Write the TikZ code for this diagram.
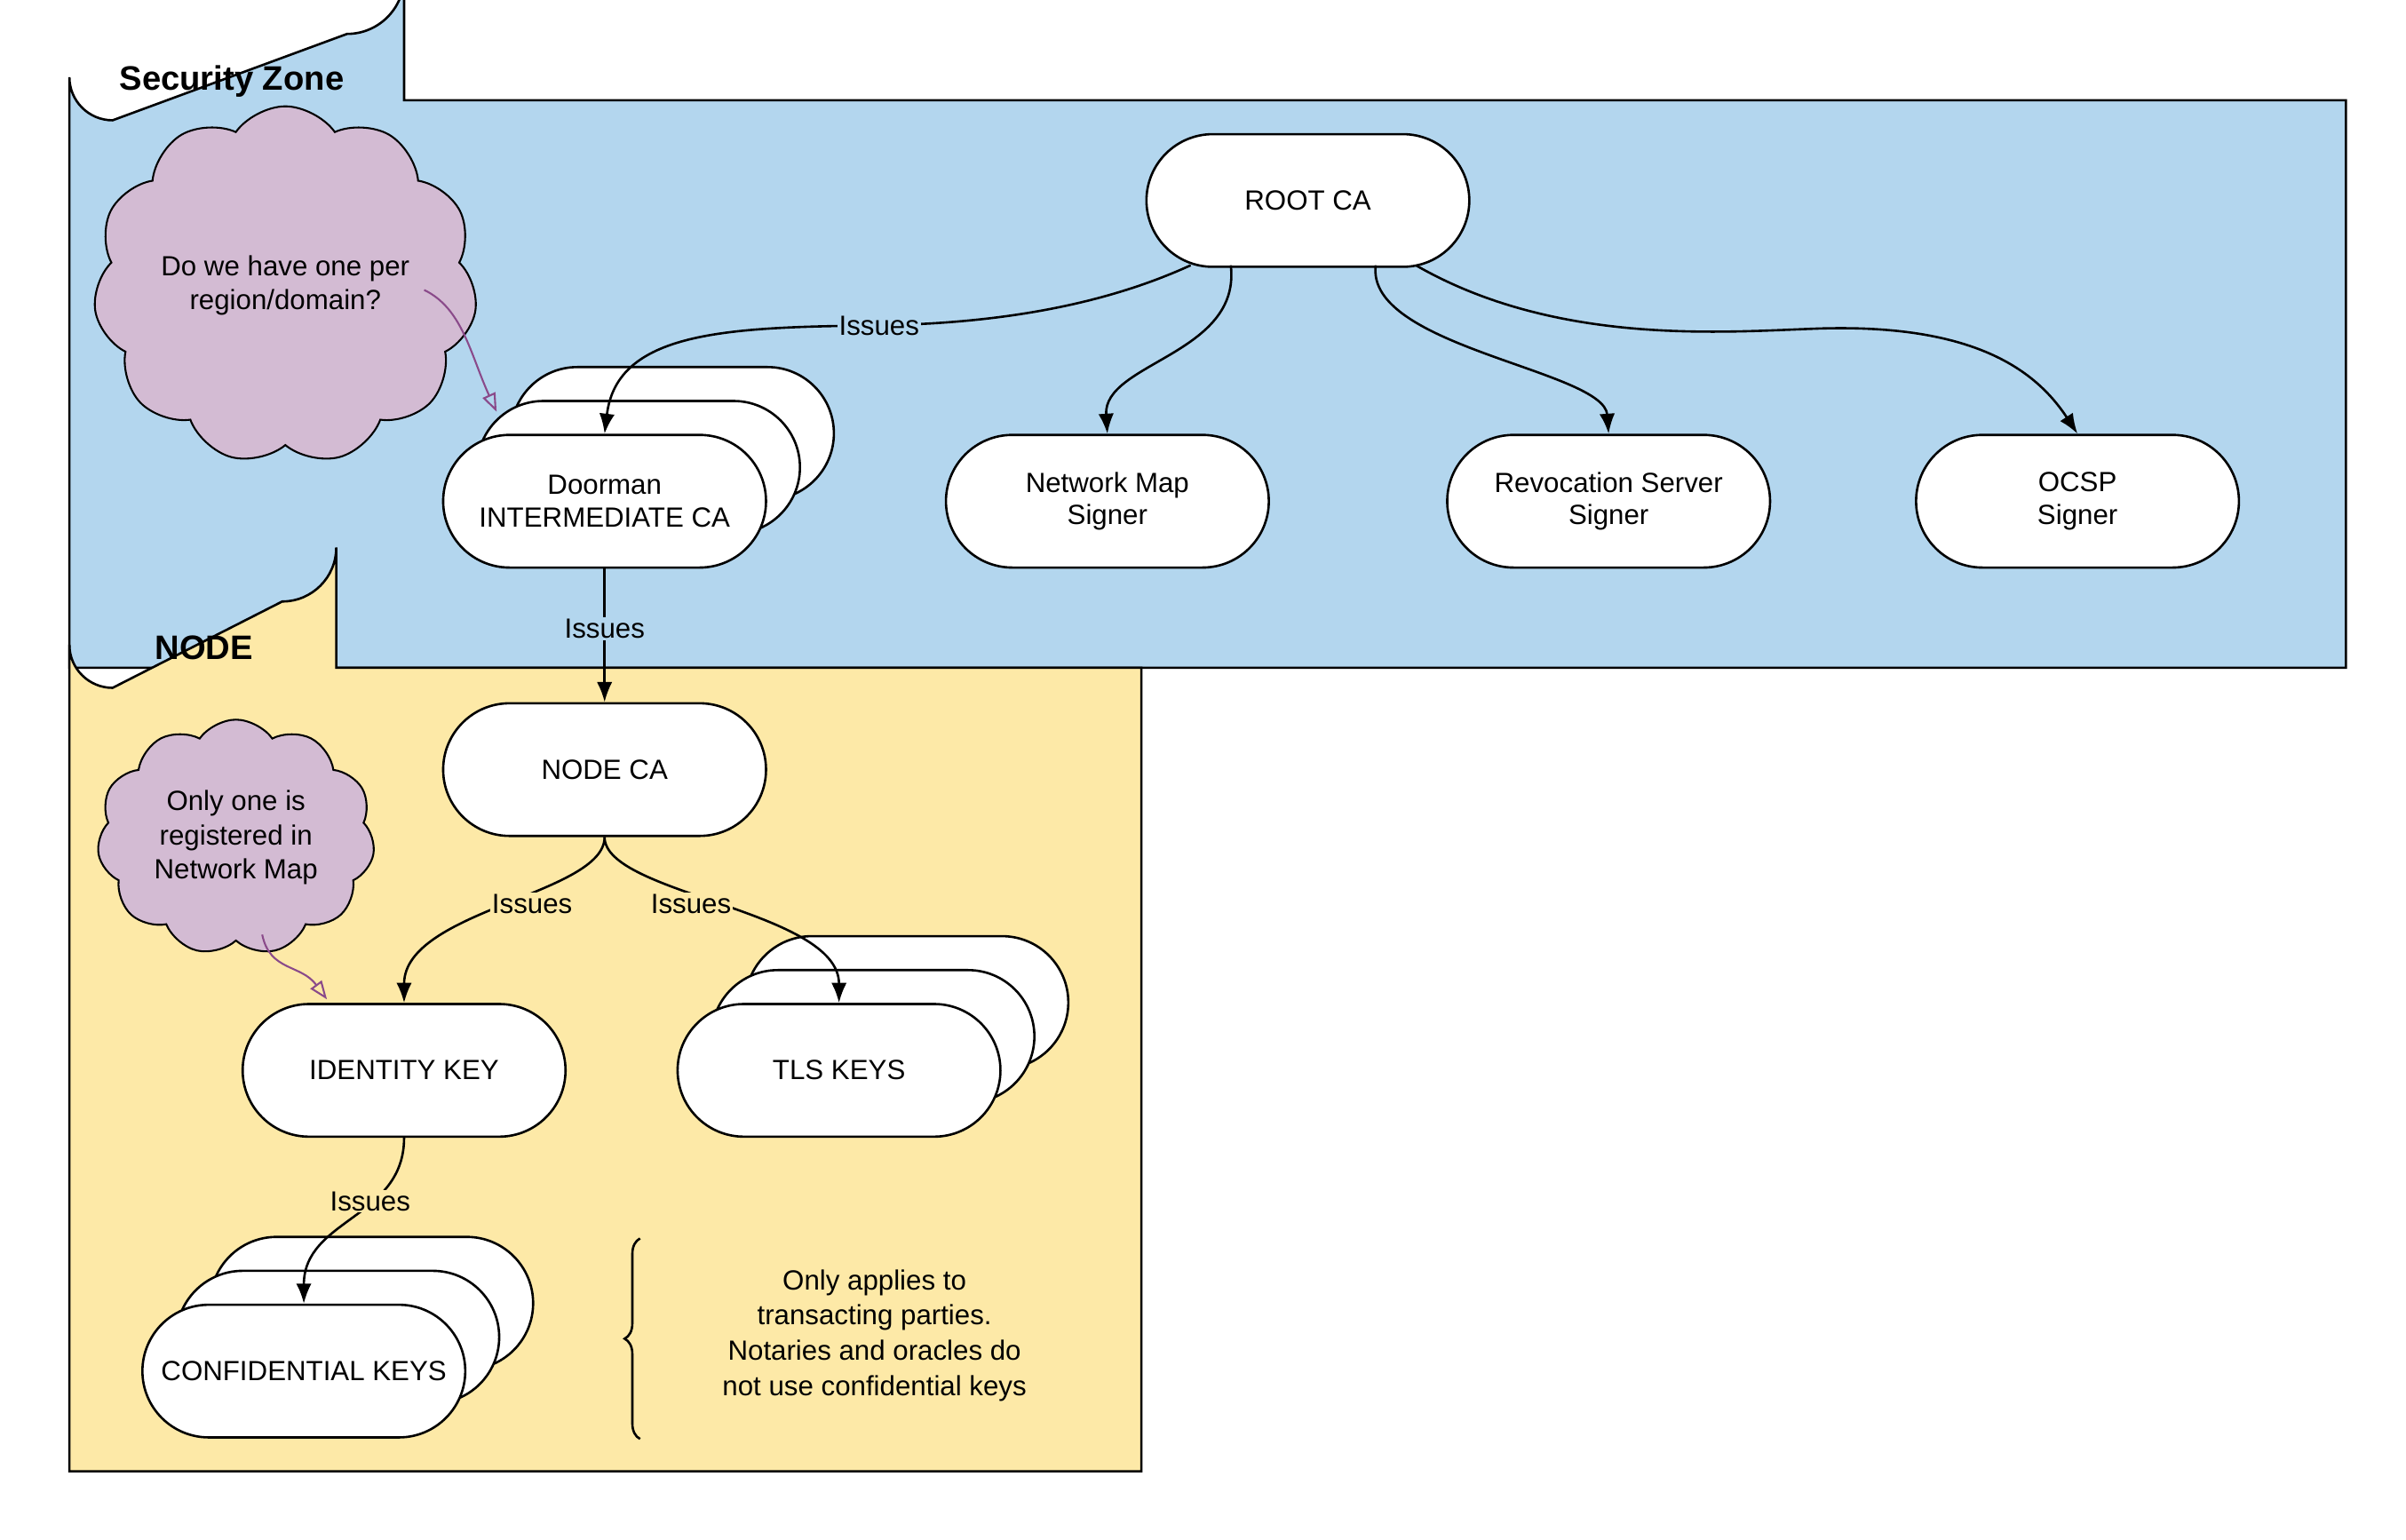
\documentclass[tikz,border=0pt]{standalone}
\usepackage{fontspec}
\setmainfont{Liberation Sans}
\usetikzlibrary{shapes.misc,shapes.symbols,arrows.meta,decorations.pathreplacing}
\definecolor{zoneblue}{HTML}{B3D6EE}
\definecolor{nodeyel}{HTML}{FDE9A7}
\definecolor{cloudp}{HTML}{D3BBD3}
\definecolor{arrowp}{HTML}{8A4A8A}
\begin{document}
\begin{tikzpicture}[x=1pt,y=-1pt,
  box/.style={rounded rectangle,draw=black,fill=white,line width=1.5pt,minimum width=216pt,minimum height=86pt,align=center,font=\fontsize{18}{21}\selectfont},
  cl/.style={cloud,cloud puffs=11,cloud puff arc=110,aspect=1.1,draw=black,fill=cloudp,line width=1.2pt,align=center,font=\fontsize{18}{22}\selectfont,inner sep=0pt},
  iss/.style={-{Latex[length=13pt,width=10pt]},line width=1.5pt},
  lbl/.style={fill=zoneblue,inner sep=1pt,font=\fontsize{18}{21}\selectfont},
  lbly/.style={fill=nodeyel,inner sep=1pt,font=\fontsize{18}{21}\selectfont},
  note/.style={-{Triangle[open,length=12pt,width=9pt]},draw=arrowp,line width=1.2pt}]
\useasboundingbox (0,0) rectangle (1560,998);
% security zone
\draw[fill=zoneblue,line width=1.5pt] (45,433) -- (45,65) -- (45,50) to[out=-90,in=180,looseness=0] (45,50)
  arc[start angle=180,end angle=90,radius=28] -- (225,22) arc[start angle=90,end angle=0,radius=37] -- (262,65) -- (1521,65) -- (1521,433) -- cycle;
\node[anchor=west,font=\bfseries\fontsize{22}{26}\selectfont] (sz) at (74,53) {Security Zone};
% node zone
\draw[fill=nodeyel,line width=1.5pt] (45,954) -- (45,418) arc[start angle=180,end angle=90,radius=28] -- (183,390) arc[start angle=90,end angle=0,radius=35] -- (218,433) -- (740,433) -- (740,954) -- cycle;
\node[anchor=west,font=\bfseries\fontsize{22}{26}\selectfont] (nz) at (97,420) {NODE};
% nodes
\node[box] (root) at (848,130) {ROOT CA};
\node[box] (d3) at (436,281) {};
\node[box] (d2) at (414,303) {};
\node[box] (door) at (392,325) {Doorman\\INTERMEDIATE CA};
\node[box] (nm) at (718,325) {Network Map\\Signer};
\node[box] (rev) at (1043,325) {Revocation Server\\Signer};
\node[box] (ocsp) at (1347,325) {OCSP\\Signer};
\node[box] (nca) at (392,499) {NODE CA};
\node[box] (idk) at (262,694) {IDENTITY KEY};
\node[box] (t3) at (588,650) {};
\node[box] (t2) at (566,672) {};
\node[box] (tls) at (544,694) {TLS KEYS};
\node[box] (c3) at (241,845) {};
\node[box] (c2) at (219,867) {};
\node[box] (conf) at (197,889) {CONFIDENTIAL KEYS};
% clouds
\node[cl,minimum width=200pt,minimum height=160pt] (cl1) at (185,185) {Do we have one per\\region/domain?};
\node[cl,minimum width=180pt,minimum height=130pt] (cl2) at (153,543) {Only one is\\registered in\\Network Map};
% edges
\coordinate (r1) at (772,172); \coordinate (r2) at (798,172); \coordinate (r3) at (892,172); \coordinate (r4) at (918,172);
\draw[iss] (r1) .. controls (700,205) and (620,210) .. (570,211) .. controls (470,212) and (400,215) .. (door.north);
\node[lbl] (l1) at (570,211) {Issues};
\draw[iss] (r2) .. controls (805,230) and (715,235) .. (nm.north);
\draw[iss] (r3) .. controls (885,225) and (1040,240) .. (rev.north);
\draw[iss] (r4) .. controls (1010,225) and (1120,215) .. (1180,213) .. controls (1280,210) and (1320,240) .. (ocsp.north);
\draw[iss] (door.south) -- node[lbl,pos=0.45] (l2) {Issues} (nca.north);
\draw[iss] (nca.south) .. controls (392,580) and (262,590) .. (idk.north);
\node[lbly] (l3) at (345,586) {Issues};
\draw[iss] (nca.south) .. controls (392,580) and (544,590) .. (tls.north);
\node[lbly] (l4) at (448,586) {Issues};
\draw[iss] (idk.south) .. controls (262,790) and (197,790) .. (conf.north);
\node[lbly] (l5) at (240,779) {Issues};
\coordinate (n1) at (275,188); \coordinate (n1e) at (322,267);
\draw[note] (n1) .. controls (300,200) and (305,230) .. (n1e);
\coordinate (n2) at (170,606); \coordinate (n2e) at (212,648);
\draw[note] (n2) .. controls (175,630) and (195,625) .. (n2e);
% brace
\draw[line width=1.5pt,decorate,decoration={brace,amplitude=10pt}] (415,933) -- (415,803);
\node[align=center,font=\fontsize{18}{23}\selectfont] (txt) at (567,866) {Only applies to\\transacting parties.\\Notaries and oracles do\\not use confidential keys};
\end{tikzpicture}
\end{document}
